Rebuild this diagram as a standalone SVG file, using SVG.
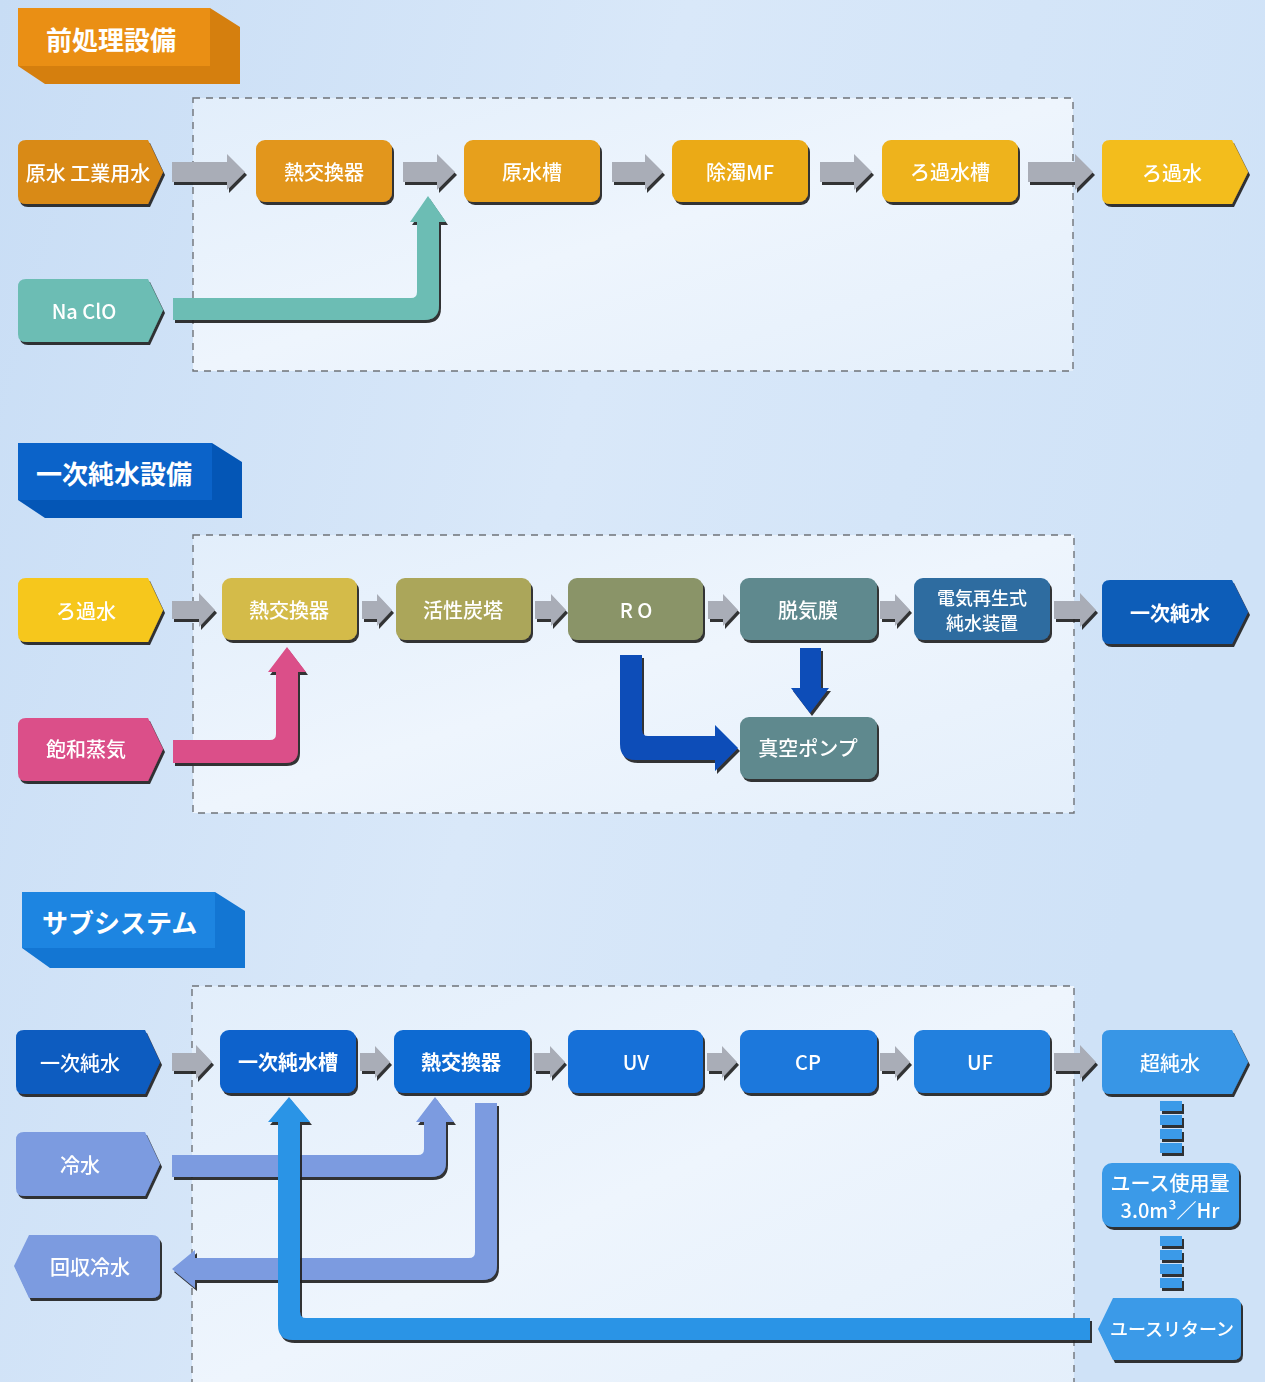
<svg xmlns="http://www.w3.org/2000/svg" width="1265" height="1382" viewBox="0 0 1265 1382">
<defs>
<linearGradient id="bg" x1="0" y1="0" x2="1" y2="0.3">
<stop offset="0" stop-color="#C8DDF5"/>
<stop offset="0.5" stop-color="#D9E8F9"/>
<stop offset="1" stop-color="#CFE2F7"/>
</linearGradient>
<linearGradient id="boxfill" x1="0" y1="0" x2="1" y2="1">
<stop offset="0" stop-color="#E2EEFB"/>
<stop offset="0.5" stop-color="#EEF5FD"/>
<stop offset="1" stop-color="#E4EFFB"/>
</linearGradient>
<filter id="sh" x="-10%" y="-10%" width="130%" height="140%">
<feDropShadow dx="2" dy="3" stdDeviation="0.6" flood-color="#1a1a1a" flood-opacity="0.9"/>
</filter>
<style>
.area{fill:url(#boxfill);stroke:#6f7378;stroke-width:1.4;stroke-dasharray:7 6}
.node{filter:url(#sh)}
.t{font-family:"Noto Sans CJK JP","Noto Sans",sans-serif;fill:#FFFFFF;font-size:20px;font-weight:500;text-anchor:middle;dominant-baseline:central}
.b{font-weight:700}
.s{font-size:18px}
.h{font-family:"Noto Sans CJK JP","Noto Sans",sans-serif;fill:#FFFFFF;font-size:26px;font-weight:700;dominant-baseline:central}
.ga{fill:#A9ADB7;filter:url(#sh)}
.fl{filter:url(#sh)}
</style>
</defs>
<rect x="0" y="0" width="1265" height="1382" fill="url(#bg)"/>

<g id="areas">
<rect class="area" x="193" y="98" width="880" height="273"/>
<rect class="area" x="193" y="535" width="881" height="278"/>
<rect class="area" x="192" y="986" width="882" height="410"/>
</g>

<g id="header1">
<path d="M210,8 L240,27 L240,84 L45,84 L18,66 L210,66 Z" fill="#D57F0E"/>
<rect x="18" y="8" width="192" height="58" fill="#EA8F14"/>
<text class="h" x="46" y="38">前処理設備</text>
</g>
<g id="header2">
<path d="M212,443 L242,462 L242,518 L45,518 L18,500 L212,500 Z" fill="#0456B6"/>
<rect x="18" y="443" width="194" height="57" fill="#0B63C9"/>
<text class="h" x="36" y="472">一次純水設備</text>
</g>
<g id="header3">
<path d="M215,892 L245,911 L245,968 L50,968 L22,948 L215,948 Z" fill="#1376D3"/>
<rect x="22" y="892" width="193" height="56" fill="#1D85E1"/>
<text class="h" x="42" y="921">サブシステム</text>
</g>

<g id="connectors">
<path class="ga" d="M172,162 H227 V154 L245,172 L227,190 V182 H172 Z"/>
<path class="ga" d="M403,162 H437 V154 L455,172 L437,190 V182 H403 Z"/>
<path class="ga" d="M612,162 H645 V154 L663,172 L645,190 V182 H612 Z"/>
<path class="ga" d="M820,162 H854 V154 L872,172 L854,190 V182 H820 Z"/>
<path class="ga" d="M1028,162 H1075 V154 L1093,172 L1075,190 V182 H1028 Z"/>
<path class="fl" fill="#6CBDB4" d="M173,298 H411 Q417,298 417,292 V222 H410 L428,196 L446,222 H439 V305 Q439,320 424,320 H173 Z"/>

<path class="ga" d="M172,601 H199 V593 L215,610 L199,627 V619 H172 Z"/>
<path class="ga" d="M362,601 H377 V594 L392,610 L377,626 V619 H362 Z"/>
<path class="ga" d="M535,601 H551 V594 L566,610 L551,626 V619 H535 Z"/>
<path class="ga" d="M708,601 H723 V594 L738,610 L723,626 V619 H708 Z"/>
<path class="ga" d="M880,601 H895 V594 L910,610 L895,626 V619 H880 Z"/>
<path class="ga" d="M1054,601 H1080 V593 L1096,610 L1080,627 V619 H1054 Z"/>
<path class="fl" fill="#DB4F89" d="M173,740 H270 Q276,740 276,734 V672 H268 L287,647 L306,672 H298 V750 Q298,763 285,763 H173 Z"/>
<path class="fl" fill="#0B4DB8" d="M620,655 H642 V730 Q642,736 648,736 H715 V725 L738,748 L715,771 V760 H636 Q620,760 620,744 Z"/>
<path class="fl" fill="#0B4DB8" d="M800,648 H821 V688 H829 L810,713 L791,688 H800 Z"/>

<path class="ga" d="M172,1053 H196 V1045 L212,1062 L196,1079 V1071 H172 Z"/>
<path class="ga" d="M360,1053 H375 V1046 L390,1062 L375,1078 V1071 H360 Z"/>
<path class="ga" d="M534,1053 H550 V1046 L565,1062 L550,1078 V1071 H534 Z"/>
<path class="ga" d="M707,1053 H722 V1046 L737,1062 L722,1078 V1071 H707 Z"/>
<path class="ga" d="M880,1053 H895 V1046 L910,1062 L895,1078 V1071 H880 Z"/>
<path class="ga" d="M1054,1053 H1080 V1045 L1096,1062 L1080,1079 V1071 H1054 Z"/>
<path class="fl" fill="#7B9BE0" d="M172,1155 H418 Q424,1155 424,1149 V1122 H416 L435,1097 L454,1122 H446 V1162 Q446,1177 431,1177 H172 Z"/>
<path class="fl" fill="#7B9BE0" d="M475,1103 H497 V1265 Q497,1280 482,1280 H195 V1288 L172,1269 L195,1250 V1258 H469 Q475,1258 475,1252 Z"/>
<path class="fl" fill="#2B94E6" d="M1090,1318 H306 Q300,1318 300,1312 V1122 H310 L289,1097 L268,1122 H278 V1325 Q278,1340 293,1340 H1090 Z"/>
<g fill="#3A9AE8" class="fl">
<rect x="1160" y="1101" width="22" height="10"/>
<rect x="1160" y="1115" width="22" height="10"/>
<rect x="1160" y="1129" width="22" height="10"/>
<rect x="1160" y="1143" width="22" height="10"/>
<rect x="1160" y="1236" width="22" height="10"/>
<rect x="1160" y="1250" width="22" height="10"/>
<rect x="1160" y="1264" width="22" height="10"/>
<rect x="1160" y="1278" width="22" height="10"/>
</g>
</g>

<g id="n_raw" class="node">
<path d="M26,140 H148 L163,172 L148,204 H26 Q18,204 18,196 V148 Q18,140 26,140 Z" fill="#D98A18"/>
<text class="t" x="88" y="172">原水 工業用水</text>
</g>
<g id="n_hx1" class="node">
<rect x="256" y="140" width="136" height="62" rx="9" fill="#E2961A"/>
<text class="t" x="324" y="171">熱交換器</text>
</g>
<g id="n_rawtank" class="node">
<rect x="464" y="140" width="136" height="62" rx="9" fill="#E7A01A"/>
<text class="t" x="532" y="171">原水槽</text>
</g>
<g id="n_mf" class="node">
<rect x="672" y="140" width="136" height="62" rx="9" fill="#EBAA18"/>
<text class="t" x="740" y="171">除濁MF</text>
</g>
<g id="n_ftank" class="node">
<rect x="882" y="140" width="136" height="62" rx="9" fill="#EEB31C"/>
<text class="t" x="950" y="171">ろ過水槽</text>
</g>
<g id="n_fwater1" class="node">
<path d="M1110,140 H1232 L1248,172 L1232,204 H1110 Q1102,204 1102,196 V148 Q1102,140 1110,140 Z" fill="#F3BD1F"/>
<text class="t" x="1172" y="172">ろ過水</text>
</g>
<g id="n_naclo" class="node">
<path d="M26,279 H148 L163,310 L148,342 H26 Q18,342 18,334 V287 Q18,279 26,279 Z" fill="#6CBDB4"/>
<text class="t" x="84" y="310">Na ClO</text>
</g>

<g id="n_fwater2" class="node">
<path d="M26,578 H148 L163,610 L148,642 H26 Q18,642 18,634 V586 Q18,578 26,578 Z" fill="#F6C71C"/>
<text class="t" x="86" y="610">ろ過水</text>
</g>
<g id="n_hx2" class="node">
<rect x="222" y="578" width="135" height="62" rx="9" fill="#D4BB4A"/>
<text class="t" x="289" y="609">熱交換器</text>
</g>
<g id="n_carbon" class="node">
<rect x="396" y="578" width="135" height="62" rx="9" fill="#ABA65A"/>
<text class="t" x="463" y="609">活性炭塔</text>
</g>
<g id="n_ro" class="node">
<rect x="568" y="578" width="135" height="62" rx="9" fill="#8A9468"/>
<text class="t" x="636" y="609">R O</text>
</g>
<g id="n_degas" class="node">
<rect x="740" y="578" width="137" height="62" rx="9" fill="#5F898E"/>
<text class="t" x="808" y="609">脱気膜</text>
</g>
<g id="n_edi" class="node">
<rect x="914" y="578" width="136" height="62" rx="9" fill="#2D6CA0"/>
<text class="t s" x="982" y="597">電気再生式</text>
<text class="t s" x="982" y="622">純水装置</text>
</g>
<g id="n_primary1" class="node">
<path d="M1110,580 H1232 L1248,612 L1232,644 H1110 Q1102,644 1102,636 V588 Q1102,580 1110,580 Z" fill="#0E5DB8"/>
<text class="t b" x="1170" y="612">一次純水</text>
</g>
<g id="n_steam" class="node">
<path d="M26,718 H148 L163,749 L148,781 H26 Q18,781 18,773 V726 Q18,718 26,718 Z" fill="#DB4F89"/>
<text class="t" x="86" y="748">飽和蒸気</text>
</g>
<g id="n_vac" class="node">
<rect x="740" y="717" width="137" height="62" rx="9" fill="#5F898E"/>
<text class="t" x="808" y="747">真空ポンプ</text>
</g>

<g id="n_primary2" class="node">
<path d="M24,1030 H145 L160,1062 L145,1094 H24 Q16,1094 16,1086 V1038 Q16,1030 24,1030 Z" fill="#0E5CC0"/>
<text class="t" x="80" y="1062">一次純水</text>
</g>
<g id="n_ptank" class="node">
<rect x="220" y="1030" width="136" height="63" rx="9" fill="#0A62CC"/>
<text class="t b" x="288" y="1061">一次純水槽</text>
</g>
<g id="n_hx3" class="node">
<rect x="394" y="1030" width="136" height="63" rx="9" fill="#0E6AD2"/>
<text class="t b" x="461" y="1061">熱交換器</text>
</g>
<g id="n_uv" class="node">
<rect x="568" y="1030" width="135" height="63" rx="9" fill="#1570D8"/>
<text class="t" x="636" y="1061">UV</text>
</g>
<g id="n_cp" class="node">
<rect x="740" y="1030" width="137" height="63" rx="9" fill="#1D78DC"/>
<text class="t" x="808" y="1061">CP</text>
</g>
<g id="n_uf" class="node">
<rect x="914" y="1030" width="136" height="63" rx="9" fill="#2480DE"/>
<text class="t" x="980" y="1061">UF</text>
</g>
<g id="n_ultra" class="node">
<path d="M1110,1030 H1232 L1248,1062 L1232,1094 H1110 Q1102,1094 1102,1086 V1038 Q1102,1030 1110,1030 Z" fill="#3896E6"/>
<text class="t" x="1170" y="1062">超純水</text>
</g>
<g id="n_cold" class="node">
<path d="M24,1132 H145 L160,1164 L145,1196 H24 Q16,1196 16,1188 V1140 Q16,1132 24,1132 Z" fill="#7B9BE0"/>
<text class="t" x="80" y="1164">冷水</text>
</g>
<g id="n_coldret" class="node">
<path d="M29,1235 H152 Q160,1235 160,1243 V1290 Q160,1298 152,1298 H29 L14,1266 Z" fill="#7B9BE0"/>
<text class="t" x="90" y="1266">回収冷水</text>
</g>
<g id="n_use" class="node">
<rect x="1102" y="1163" width="137" height="64" rx="10" fill="#3A9AE8"/>
<text class="t" x="1170" y="1182">ユース使用量</text>
<text class="t" x="1170" y="1209">3.0m³／Hr</text>
</g>
<g id="n_useret" class="node">
<path d="M1113,1298 H1233 Q1241,1298 1241,1306 V1352 Q1241,1360 1233,1360 H1113 L1098,1329 Z" fill="#3A9AE8"/>
<text class="t s" x="1172" y="1328">ユースリターン</text>
</g>
</svg>
